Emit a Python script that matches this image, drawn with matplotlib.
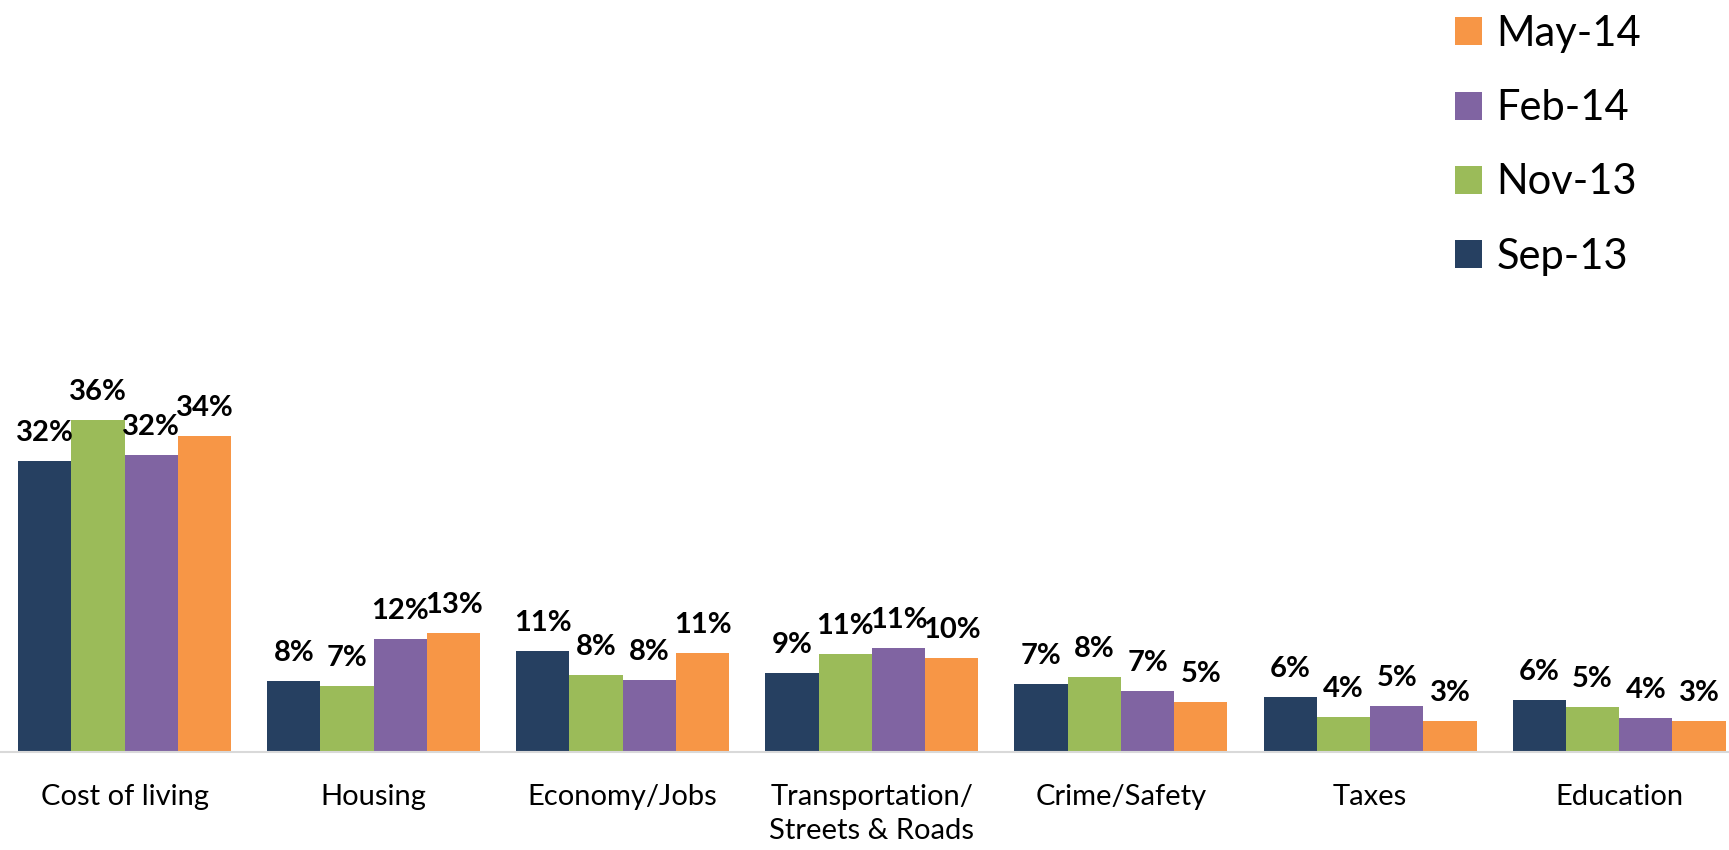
import matplotlib
matplotlib.use("Agg")
import matplotlib.pyplot as plt
import numpy as np

plt.rcParams['font.family'] = ['Lato', 'DejaVu Sans']

categories = ["Cost of living", "Housing", "Economy/Jobs",
              "Transportation/\nStreets & Roads", "Crime/Safety", "Taxes", "Education"]
series_names = ["Sep-13", "Nov-13", "Feb-14", "May-14"]
sep13 = [31.6, 7.7, 11.0, 8.6, 7.4, 6.0, 5.7]
nov13 = [36.1, 7.2, 8.4, 10.6, 8.2, 3.8, 4.9]
feb14 = [32.3, 12.3, 7.8, 11.3, 6.6, 5.0, 3.7]
may14 = [34.4, 12.9, 10.8, 10.2, 5.4, 3.4, 3.4]
colors = ["#264061", "#9BBB59", "#8064A2", "#F79646"]

W, H = 1729, 850
fig = plt.figure(figsize=(W / 100, H / 100), dpi=100)
ax = fig.add_axes([0, 98 / H, 1, 368 / H])
ax.set_xlim(-0.5, -0.5 + W / 249.1)
ax.set_ylim(0, 40)

x = np.arange(len(categories))
bw = 0.2138
handles = []
for i, (name, vals, c) in enumerate(zip(series_names, [sep13, nov13, feb14, may14], colors)):
    pos = x + (i - 1.5) * bw
    bars = ax.bar(pos, vals, width=bw, color=c, label=name, zorder=2)
    handles.append(bars)
    for p, v in zip(pos, vals):
        ax.annotate(f"{v:.0f}%", (p, v), xytext=(0, 14.4), textcoords="offset points",
                    ha="center", va="baseline", fontsize=21, fontweight="bold", color="black")

for s in ["top", "left", "right"]:
    ax.spines[s].set_visible(False)
ax.spines["bottom"].set_color("#d9d9d9")
ax.spines["bottom"].set_linewidth(1.5)
ax.set_yticks([])
ax.set_xticks(x)
ax.set_xticklabels(categories, fontsize=21, linespacing=1.4)
ax.tick_params(axis="x", length=0, pad=23)

fig.legend(handles[::-1], series_names[::-1], loc="upper left",
           bbox_to_anchor=(1455 / W, 1 - 15 / H), frameon=False, fontsize=30,
           handlelength=0.65, handleheight=0.65, handletextpad=0.35,
           labelspacing=0.87, borderpad=0, borderaxespad=0)

fig.savefig("out.png", dpi=100)
